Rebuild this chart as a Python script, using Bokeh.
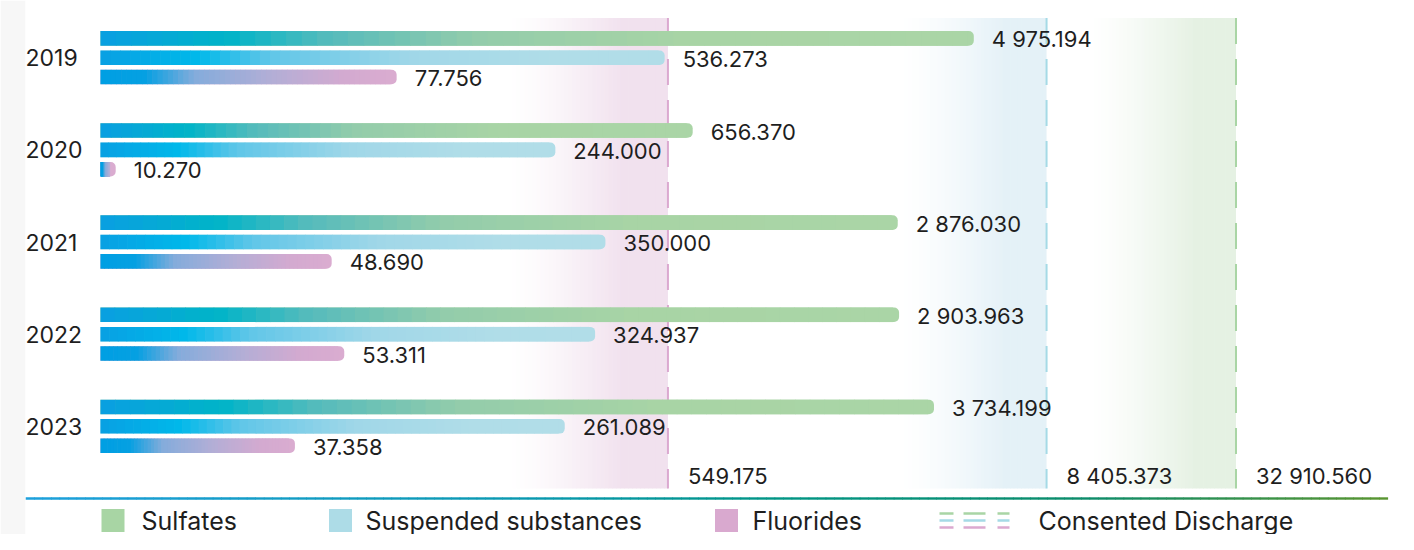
import math
import numpy as np
from bokeh.plotting import figure
from bokeh.models import Range1d, LinearScale
from bokeh.core.properties import value
from bokeh.embed import file_html
from bokeh.resources import INLINE

# ---------------- data ----------------
years = ["2019", "2020", "2021", "2022", "2023"]
sulfates = [4975.194, 656.370, 2876.030, 2903.963, 3734.199]
suspended = [536.273, 244.000, 350.000, 324.937, 261.089]
fluorides = [77.756, 10.270, 48.690, 53.311, 37.358]
series_names = ["Sulfates", "Suspended substances", "Fluorides"]
consented_names = ["Fluorides", "Suspended substances", "Sulfates"]
consented_values = [549.175, 8405.373, 32910.560]
discharge_label = "Consented Discharge"

# ---------------- style ----------------
W, H = 1398, 534
LEFT_BORDER = 25
FONT = value("Inter")
TEXT_COLOR = "#1e1e1e"
X_START, X_END = 5.362, 106130.0
Y_TOP, Y_BOTTOM = -0.6207, 5.174
BAR_BASE = 9.2
BAR_OFFSETS = [-0.21, 0.0, 0.21]
BAR_HEIGHT = 0.158
END_COLORS = ["#AAD5A6", "#B1DDE8", "#DAACD0"]
GRADIENTS = [
    [(0.0, "#0A9FE2"), (0.146, "#00B4C8"), (0.26, "#55BBBC"), (0.43, "#93CCAB"), (0.67, "#A8D4A5"), (1.0, "#AAD5A6")],
    [(0.0, "#08A0E3"), (0.17, "#00B8EA"), (0.30, "#60C6E8"), (0.55, "#A0D7E8"), (0.8, "#B0DDE8"), (1.0, "#B1DDE8")],
    [(0.0, "#009FE3"), (0.15, "#05A0E2"), (0.32, "#84ACDB"), (0.58, "#B3AED6"), (0.82, "#D3AAD0"), (1.0, "#DAACD0")],
]
LEGEND_COLORS = ["#A8D5A4", "#ADDCE7", "#D9A9CF"]
DASH_COLORS = ["#DBA9D0", "#A5DAE6", "#A9D5A5"]     # in consented order
BAND_COLORS = ["#F1E1EE", "#E4F1F7", "#E5F1E3"]
BAND_LN = [1.15, 1.05, 1.05]
BAND_RAMP = 0.72
BAND_TOP, BAND_BOTTOM = -0.43, 4.675
THR_LABEL_Y = 4.535
LABEL_GAP = 18
CAP_PX = 6
N_SEG = 56

# legend / decoration positions (figure px)
LEG_Y = 520
LEG_SQ_X = [112.5, 340.0, 726.0]
LEG_TXT_X = [141, 365, 752, 1038]
ICON_X = (939, 1009)
LINE_Y = 498
LINE_X = (25, 1387)
LINE_STOPS = [(0.0, "#1DA0DC"), (0.38, "#0898AE"), (0.55, "#009585"), (0.78, "#0C8C6A"), (1.0, "#5A9530")]

FRAME_W = W - LEFT_BORDER
PX_PER_LN = FRAME_W / (math.log(X_END) - math.log(X_START))


def hex_to_rgb(h):
    return tuple(int(h[i:i + 2], 16) for i in (1, 3, 5))


def interp(stops, t):
    for (t0, c0), (t1, c1) in zip(stops[:-1], stops[1:]):
        if t <= t1:
            f = 0.0 if t1 == t0 else (t - t0) / (t1 - t0)
            a, b = hex_to_rgb(c0), hex_to_rgb(c1)
            return "#%02x%02x%02x" % tuple(round(a[k] + (b[k] - a[k]) * f) for k in range(3))
    return stops[-1][1]


def blend_white(hexc, a):
    c = hex_to_rgb(hexc)
    return "#%02x%02x%02x" % tuple(round(255 + (c[k] - 255) * a) for k in range(3))


p = figure(
    width=W, height=H, title=None,
    x_axis_type="log", x_range=Range1d(X_START, X_END),
    y_range=Range1d(Y_BOTTOM, Y_TOP),
    x_axis_location=None, y_axis_location=None,
    output_backend="svg", toolbar_location=None,
    min_border=0, min_border_left=LEFT_BORDER,
    outline_line_color=None,
    background_fill_color="white", border_fill_color="#F7F7F7",
)
p.grid.visible = False
p.extra_x_ranges = {"px": Range1d(LEFT_BORDER, W)}
p.extra_x_scales = {"px": LinearScale()}
p.extra_y_ranges = {"py": Range1d(H, 0)}

# ---------- consented-discharge bands ----------
bl, br, bc = [], [], []
for thr, col, span in zip(consented_values, BAND_COLORS, BAND_LN):
    lo = math.log(thr) - span
    n = 40
    edges = np.linspace(lo, math.log(thr), n + 1)
    for k in range(n):
        t = (k + 0.5) / n
        a = min(1.0, t / BAND_RAMP) ** 1.3
        bl.append(math.exp(edges[k]))
        br.append(math.exp(edges[k + 1] + (0.6 / PX_PER_LN if k < n - 1 else 0)))
        bc.append(blend_white(col, a))
p.quad(left=bl, right=br, top=BAND_TOP, bottom=BAND_BOTTOM, fill_color=bc, line_color=None)

p.segment(x0=consented_values, x1=consented_values, y0=BAND_TOP, y1=BAND_BOTTOM,
          line_color=DASH_COLORS, line_width=2, line_dash="26 15")

# ---------- bars ----------
all_series = [sulfates, suspended, fluorides]
for s, vals in enumerate(all_series):
    ys = [i + BAR_OFFSETS[s] for i in range(len(years))]
    p.hbar(y=ys, height=BAR_HEIGHT, left=BAR_BASE, right=vals,
           fill_color=END_COLORS[s], line_color=None, border_radius=(0, 5, 5, 0))
    gl, gr, gy, gc = [], [], [], []
    for y, v in zip(ys, vals):
        l0, l1 = math.log(BAR_BASE), math.log(v)
        cut = l1 - CAP_PX / PX_PER_LN
        if cut <= l0:
            continue
        edges = np.linspace(l0, cut, N_SEG + 1)
        for k in range(N_SEG):
            mid = (edges[k] + edges[k + 1]) / 2
            t = (mid - l0) / (l1 - l0)
            gl.append(math.exp(edges[k]))
            gr.append(math.exp(edges[k + 1] + (0.6 / PX_PER_LN if k < N_SEG - 1 else 0)))
            gy.append(y)
            gc.append(interp(GRADIENTS[s], t))
    p.hbar(y=gy, height=BAR_HEIGHT, left=gl, right=gr, fill_color=gc, line_color=None)


# ---------- value labels ----------
def fmt(v):
    return f"{v:,.3f}".replace(",", " ")


lx, ly, lt = [], [], []
for s, vals in enumerate(all_series):
    for i, v in enumerate(vals):
        lx.append(v)
        ly.append(i + BAR_OFFSETS[s])
        lt.append(fmt(v))
p.text(x=lx, y=ly, text=lt, x_offset=LABEL_GAP, y_offset=1, text_baseline="middle",
       text_align="left", text_font=FONT, text_font_size="22px", text_color=TEXT_COLOR)

p.text(x=consented_values, y=THR_LABEL_Y, text=[fmt(v) for v in consented_values],
       x_offset=20, text_baseline="middle", text_align="left",
       text_font=FONT, text_font_size="22px", text_color=TEXT_COLOR)

# ---------- year labels ----------
p.text(x=[X_START] * len(years), y=list(range(len(years))), text=years,
       text_baseline="middle", text_align="left",
       text_font=FONT, text_font_size="23px", text_color=TEXT_COLOR)

# ---------- bottom gradient rule ----------
n = 160
edges = np.linspace(LINE_X[0], LINE_X[1], n + 1)
p.quad(left=edges[:-1], right=edges[1:] + 0.6, top=LINE_Y - 1.2, bottom=LINE_Y + 1.2,
       fill_color=[interp(LINE_STOPS, (k + 0.5) / n) for k in range(n)], line_color=None,
       x_range_name="px", y_range_name="py")

# ---------- legend ----------
p.rect(x=LEG_SQ_X, y=LEG_Y, width=23, height=23, fill_color=LEGEND_COLORS, line_color=None,
       x_range_name="px", y_range_name="py")
p.segment(x0=ICON_X[0], x1=ICON_X[1], y0=[LEG_Y - 7, LEG_Y, LEG_Y + 7], y1=[LEG_Y - 7, LEG_Y, LEG_Y + 7],
          line_color=[DASH_COLORS[2], DASH_COLORS[1], DASH_COLORS[0]], line_width=2.5,
          line_dash="14 10 22 12 14 40", x_range_name="px", y_range_name="py")
p.text(x=LEG_TXT_X, y=LEG_Y, text=series_names + [discharge_label],
       text_baseline="middle", text_align="left",
       text_font=FONT, text_font_size="25px", text_color=TEXT_COLOR,
       x_range_name="px", y_range_name="py")

open("out.html", "w").write(file_html(p, INLINE))
